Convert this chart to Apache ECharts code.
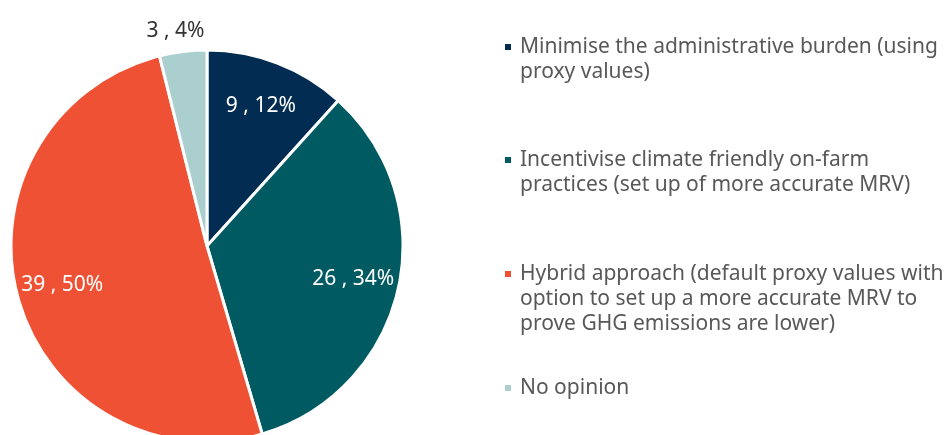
<!DOCTYPE html>
<html>
<head>
<meta charset="utf-8">
<script src="https://cdn.jsdelivr.net/npm/echarts@6/dist/echarts.min.js"></script>
<style>
  html, body { margin: 0; padding: 0; background: #fff; }
  #chart { width: 949px; height: 435px; }
</style>
</head>
<body>
<div id="chart"></div>
<script>
// data
const names = [
  'Minimise the administrative burden (using\nproxy values)',
  'Incentivise climate friendly on-farm\npractices (set up of more accurate MRV)',
  'Hybrid approach (default proxy values with\noption to set up a more accurate MRV to\nprove GHG emissions are lower)',
  'No opinion'
];
const values = [9, 26, 39, 3];
const colors = ['#022c51', '#005a62', '#ef5134', '#abcfcf'];

const font = 'Noto Sans';
const lineH = 25;
const legendY = [47, 160, 274, 388]; // centre of first line of each legend item

const chart = echarts.init(document.getElementById('chart'));

const fmt = p => p.value + ' , ' + p.percent + '%';

// one legend per entry; blank lines on top keep the marker on the first line
const legends = names.map((n, i) => {
  const lines = n.split('\n').length;
  return {
    orient: 'vertical',
    left: 503,
    top: legendY[i] - (2 * lines - 1) * lineH / 2,
    padding: 0,
    icon: 'rect',
    itemWidth: 8,
    itemHeight: 8,
    selectedMode: false,
    data: [n],
    formatter: name => '\n'.repeat(lines - 1) + name,
    textStyle: { fontFamily: font, fontSize: 21, color: '#585858', lineHeight: lineH, padding: [0, 0, 0, 3] }
  };
});

const option = {
  color: colors,
  animation: false,
  legend: legends,
  series: [
    {
      type: 'pie',
      center: [207, 246],
      radius: [0, 196],
      startAngle: 90,
      clockwise: true,
      percentPrecision: 0,
      avoidLabelOverlap: false,
      itemStyle: { borderColor: '#fff', borderWidth: 3 },
      label: { show: false },
      labelLine: { show: false, length: 21, length2: 0 },
      labelLayout: p => (p.dataIndex === 3 ? { align: 'center' } : {}),
      emphasis: { disabled: true },
      data: names.map((n, i) => ({
        name: n,
        value: values[i],
        label: i === 3 ? {
          show: true, position: 'outside', formatter: fmt,
          fontFamily: font, fontSize: 21, color: '#333'
        } : { show: false }
      }))
    },
    {
      // transparent ring that only carries the inner labels
      type: 'pie',
      silent: true,
      center: [207, 246],
      radius: [104, 190],
      startAngle: 90,
      clockwise: true,
      percentPrecision: 0,
      avoidLabelOverlap: false,
      itemStyle: { color: 'rgba(0,0,0,0)' },
      label: {
        show: true, position: 'inside', formatter: fmt,
        fontFamily: font, fontSize: 21, color: '#fff'
      },
      labelLine: { show: false },
      emphasis: { disabled: true },
      data: names.map((n, i) => ({
        name: n,
        value: values[i],
        label: i === 3 ? { show: false } : {}
      }))
    }
  ]
};

chart.setOption(option);
</script>
</body>
</html>
